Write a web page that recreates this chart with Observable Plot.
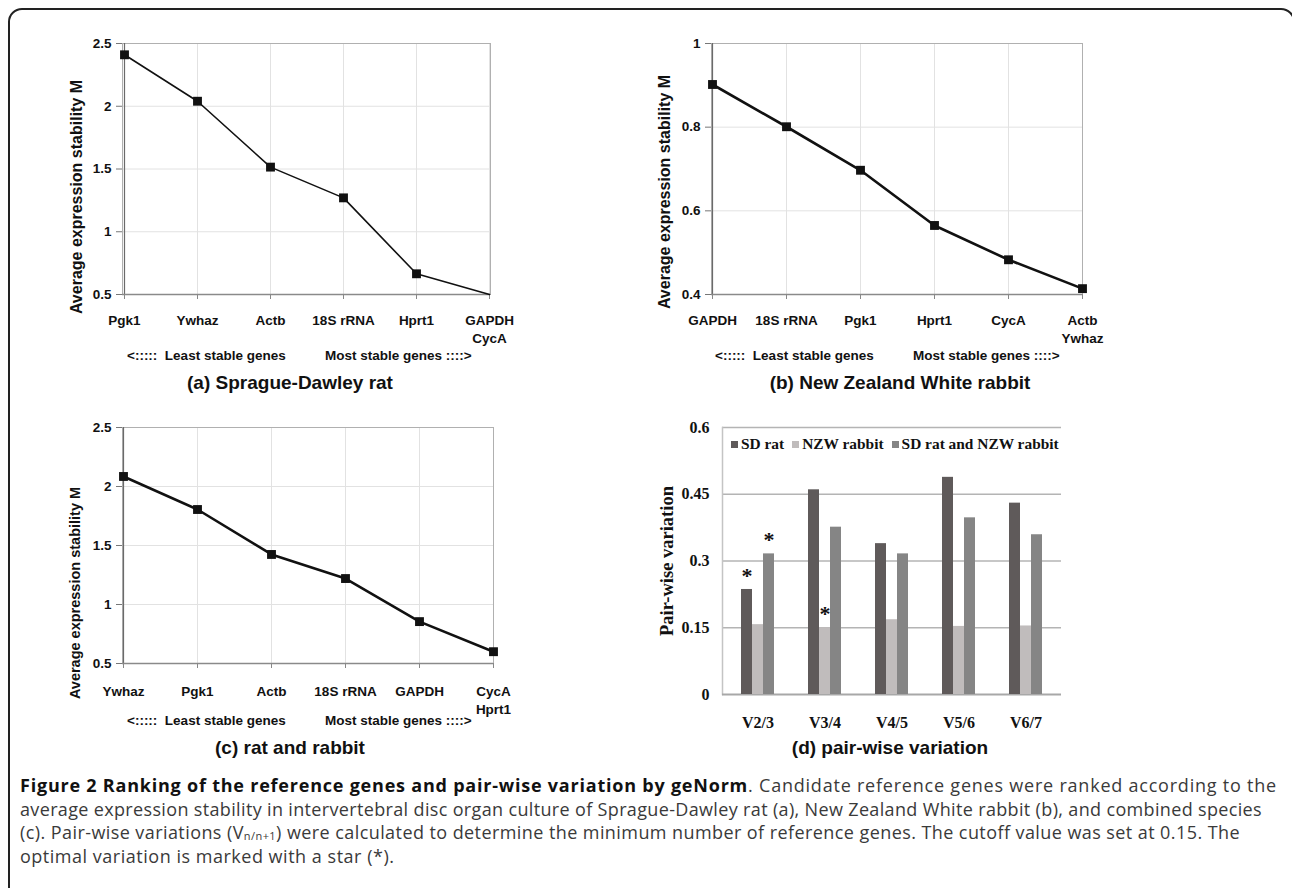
<!DOCTYPE html>
<html><head><meta charset="utf-8">
<script src="https://cdn.jsdelivr.net/npm/d3@7"></script>
<script src="https://cdn.jsdelivr.net/npm/@observablehq/plot@0.6"></script>
<style>
body{margin:0;background:#fff;}
#fig{position:relative;width:1292px;height:888px;overflow:hidden;background:#fff;font-family:"Liberation Sans",Arial,sans-serif;color:#111;}
.border{position:absolute;left:8px;top:8px;width:1287px;height:900px;border:2px solid #222;border-radius:14px;box-sizing:border-box;}
.ytitle{position:absolute;white-space:nowrap;font-weight:bold;transform:translate(-50%,-50%) rotate(-90deg);}
.note{position:absolute;white-space:nowrap;font-weight:bold;font-size:13.5px;transform:translateY(-50%);}
.ptitle{position:absolute;white-space:nowrap;font-weight:bold;font-size:19px;transform:translate(-50%,-50%);}
.plot{position:absolute;}
.capline{position:absolute;left:20px;font-family:"Open Sans";font-size:18px;line-height:23.5px;height:23.5px;color:#3a3a3a;white-space:nowrap;}
.capline b{color:#111;}
.capline .sub{font-size:11px;line-height:11px;position:relative;top:1px;vertical-align:baseline;}
.legend{position:absolute;left:731px;top:444px;transform:translateY(-50%);display:flex;align-items:center;font-family:"Liberation Serif","Times New Roman",serif;font-weight:bold;font-size:15.4px;white-space:nowrap;}
.legend .sw{display:inline-block;width:7px;height:7px;margin-right:3px;}
.legend .item{display:flex;align-items:center;margin-right:8px;}
</style></head>
<body>
<div id="fig">
  <div class="border"></div>
</div>
<script>
// ---- data ----
const genesA = ["Pgk1", "Ywhaz", "Actb", "18S rRNA", "Hprt1", "GAPDH\nCycA"];
const mA = [2.41, 2.04, 1.515, 1.27, 0.665, 0.50];
const ticksA = [0.5, 1, 1.5, 2, 2.5];

const genesB = ["GAPDH", "18S rRNA", "Pgk1", "Hprt1", "CycA", "Actb\nYwhaz"];
const mB = [0.902, 0.801, 0.697, 0.565, 0.483, 0.414];
const ticksB = [0.4, 0.6, 0.8, 1];

const genesC = ["Ywhaz", "Pgk1", "Actb", "18S rRNA", "GAPDH", "CycA\nHprt1"];
const mC = [2.085, 1.805, 1.424, 1.22, 0.855, 0.60];
const ticksC = [0.5, 1, 1.5, 2, 2.5];

const pairs = ["V2/3", "V3/4", "V4/5", "V5/6", "V6/7"];
const seriesNames = ["SD rat", "NZW rabbit", "SD rat and NZW rabbit"];
const sdRat = [0.236, 0.460, 0.339, 0.488, 0.430];
const nzwRabbit = [0.157, 0.150, 0.168, 0.153, 0.154];
const combined = [0.316, 0.376, 0.316, 0.397, 0.359];
const seriesColors = ["#5f5a5a", "#c0bcbc", "#858585"];
const ticksD = [0, 0.15, 0.3, 0.45, 0.6];
const optimal = [["V2/3", "SD rat"], ["V2/3", "SD rat and NZW rabbit"], ["V3/4", "NZW rabbit"]];

const captionLines = [
  `<b>Figure 2 Ranking of the reference genes and pair-wise variation by geNorm</b>. Candidate reference genes were ranked according to the`,
  `average expression stability in intervertebral disc organ culture of Sprague-Dawley rat (a), New Zealand White rabbit (b), and combined species`,
  `(c). Pair-wise variations (V<span class="sub">n/n+1</span>) were calculated to determine the minimum number of reference genes. The cutoff value was set at 0.15. The`,
  `optimal variation is marked with a star (*).`
];

const fig = document.getElementById("fig");
const SANS = '"Liberation Sans", Arial, sans-serif';
const SERIF = '"Liberation Serif", "Times New Roman", serif';

function place(el, left, top) {
  el.classList.add("plot");
  el.style.left = left + "px";
  el.style.top = top + "px";
  fig.appendChild(el);
}
function addDiv(cls, html, left, top, extra) {
  const d = document.createElement("div");
  d.className = cls;
  d.innerHTML = html;
  d.style.left = left + "px";
  d.style.top = top + "px";
  if (extra) Object.assign(d.style, extra);
  fig.appendChild(d);
  return d;
}

function lineChart({genes, m, ticks, width, height, ml, mr, mt, mb, strokeWidth, tickPadding}) {
  const data = genes.map((g, i) => ({gene: g, m: m[i]}));
  const y0 = ticks[0], y1 = ticks[ticks.length - 1];
  return Plot.plot({
    width, height, marginLeft: ml, marginRight: mr, marginTop: mt, marginBottom: mb,
    style: {fontFamily: SANS, fontSize: "13.5px", fontWeight: "bold", color: "#111", background: "transparent", overflow: "visible"},
    x: {type: "point", domain: genes, padding: 0},
    y: {domain: [y0, y1]},
    marks: [
      Plot.gridX(genes, {stroke: "#e2e2e2", strokeOpacity: 1}),
      Plot.gridY(ticks, {stroke: "#e2e2e2", strokeOpacity: 1}),
      Plot.frame({stroke: "#b0b0b0"}),
      Plot.ruleX([genes[0]], {stroke: "#6a6a6a", strokeWidth: 1.2}),
      Plot.ruleY([y0], {stroke: "#8a8a8a", strokeWidth: 1.6}),
      Plot.axisY(ticks, {tickSize: 6, tickPadding: 5, tickFormat: d => String(d), stroke: "#777", fill: "#111", label: null}),
      Plot.axisX(genes, {tickSize: 5, tickPadding: tickPadding, stroke: "#888", fill: "#111", label: null, lineHeight: 1.3}),
      Plot.lineY(data, {x: "gene", y: "m", stroke: "#111", strokeWidth}),
      Plot.dot(data.filter(d => d.m > y0), {x: "gene", y: "m", symbol: "square", fill: "#111", r: 5})
    ]
  });
}

// (a)
place(lineChart({genes: genesA, m: mA, ticks: ticksA, width: 640, height: 380, ml: 122, mr: 150, mt: 43, mb: 86, strokeWidth: 1.6, tickPadding: 13}), 0, 0);
// (b)
place(lineChart({genes: genesB, m: mB, ticks: ticksB, width: 652, height: 380, ml: 71, mr: 210, mt: 43, mb: 86, strokeWidth: 2.6, tickPadding: 13}), 640, 0);
// (c)
place(lineChart({genes: genesC, m: mC, ticks: ticksC, width: 640, height: 380, ml: 122, mr: 147, mt: 43, mb: 101, strokeWidth: 2.6, tickPadding: 15}), 0, 384);

// (d) background: grid, axes
const fxOpts = {domain: pairs, paddingInner: 0.513, paddingOuter: 0.256};
const bg = Plot.plot({
  width: 652, height: 380, marginLeft: 82, marginRight: 231, marginTop: 43, marginBottom: 70,
  style: {fontFamily: SERIF, fontSize: "16px", fontWeight: "bold", color: "#111", background: "transparent", overflow: "visible"},
  x: {type: "band", ...fxOpts},
  y: {domain: [0, 0.6]},
  marks: [
    Plot.ruleY(ticksD.filter(d => d > 0), {stroke: "#b4b4b4", strokeWidth: 1.5}),
    Plot.frame({anchor: "left", stroke: "#c4c4c4", strokeWidth: 1.5}),
    Plot.ruleY([0], {stroke: "#a8a8a8", strokeWidth: 2.2}),
    Plot.axisY(ticksD, {tickSize: 0, tickPadding: 13, tickFormat: d => String(d), fill: "#111", label: null}),
    Plot.axisX(pairs, {tickSize: 0, tickPadding: 22, fill: "#111", label: null})
  ]
});
place(bg, 640, 384);

const barData = pairs.flatMap((p, i) => seriesNames.map((s, j) => ({pair: p, series: s, v: [sdRat, nzwRabbit, combined][j][i]})));
const starData = optimal.map(([p, s]) => barData.find(d => d.pair === p && d.series === s));
const fg = Plot.plot({
  width: 652, height: 380, marginLeft: 82, marginRight: 231, marginTop: 43, marginBottom: 70,
  style: {fontFamily: SERIF, fontSize: "16px", fontWeight: "bold", color: "#111", background: "transparent", overflow: "visible"},
  fx: {...fxOpts, axis: null},
  x: {domain: seriesNames, padding: 0, axis: null},
  y: {domain: [0, 0.6], axis: null},
  color: {domain: seriesNames, range: seriesColors},
  marks: [
    Plot.barY(barData, {fx: "pair", x: "series", y: "v", fill: "series"}),
    Plot.text(starData, {fx: "pair", x: "series", y: "v", text: () => "*", dy: -14, fontSize: 22, fontFamily: SERIF, fontWeight: "bold", fill: "#111"})
  ]
});
place(fg, 640, 384);

// legend (d)
const leg = document.createElement("div");
leg.className = "legend";
leg.innerHTML = seriesNames.map((s, i) => `<span class="item"><span class="sw" style="background:${seriesColors[i]}"></span>${s}</span>`).join("");
fig.appendChild(leg);

// axis titles
addDiv("ytitle", "Average expression stability M", 77, 197, {fontSize: "16px"});
addDiv("ytitle", "Average expression stability M", 665, 192, {fontSize: "16px"});
addDiv("ytitle", "Average expression stability M", 75, 593, {fontSize: "14.5px"});
addDiv("ytitle", "Pair-wise variation", 667, 561, {fontSize: "18.5px", fontFamily: SERIF});

// notes
addDiv("note", "&lt;:::::&nbsp; Least stable genes", 127, 355);
addDiv("note", "Most stable genes ::::&gt;", 325, 355);
addDiv("note", "&lt;:::::&nbsp; Least stable genes", 715, 355);
addDiv("note", "Most stable genes ::::&gt;", 913, 355);
addDiv("note", "&lt;:::::&nbsp; Least stable genes", 127, 720);
addDiv("note", "Most stable genes ::::&gt;", 325, 720);

// panel titles
addDiv("ptitle", "(a) Sprague-Dawley rat", 290, 383);
addDiv("ptitle", "(b) New Zealand White rabbit", 900, 383);
addDiv("ptitle", "(c) rat and rabbit", 290, 748);
addDiv("ptitle", "(d) pair-wise variation", 890, 748);

// caption: one div per line, letter-spacing fitted to the reference line ends
const capTargets = [1277, 1262, 1240];
const capDivs = captionLines.map((html, i) => {
  const d = document.createElement("div");
  d.className = "capline";
  d.innerHTML = html;
  d.style.top = (774 + i * 23.5) + "px";
  fig.appendChild(d);
  return d;
});
const spacings = capTargets.map((t, i) => {
  const d = capDivs[i];
  const w = d.getBoundingClientRect().width;
  const n = d.textContent.length;
  return (t - 20 - w) / n;
});
const meanSpacing = spacings.reduce((a, b) => a + b, 0) / spacings.length;
capDivs.forEach((d, i) => { d.style.letterSpacing = (i < spacings.length ? spacings[i] : meanSpacing) + "px"; });
</script>
</body></html>
